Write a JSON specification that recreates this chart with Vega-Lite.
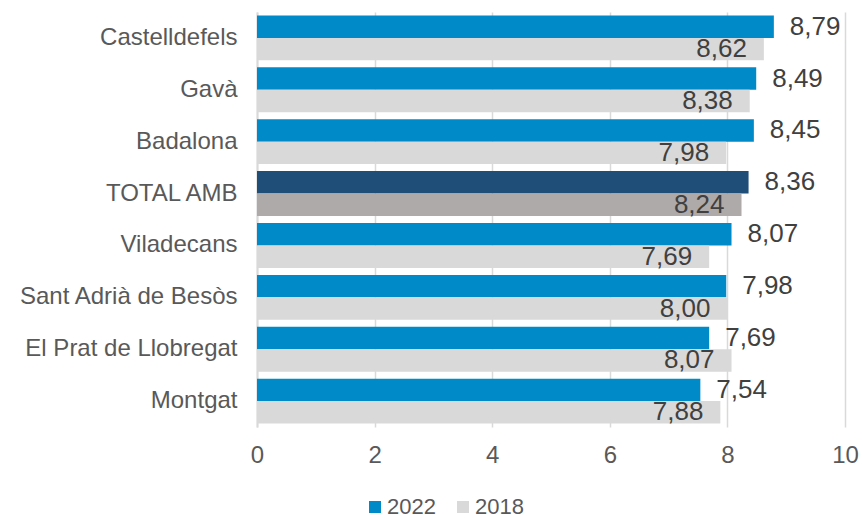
{
  "$schema": "https://vega.github.io/schema/vega-lite/v6.json",
  "width": 588,
  "height": 415,
  "autosize": {"type": "none"},
  "padding": {"left": 257, "top": 12, "right": 18, "bottom": 91},
  "config": {
    "view": {"stroke": null},
    "font": "Liberation Sans",
    "locale": {"number": {"decimal": ",", "thousands": ".", "grouping": [3], "currency": ["", " €"]}}
  },
  "data": {
    "values": [
      {"municipi": "Castelldefels", "any": "2022", "valor": 8.79},
      {"municipi": "Castelldefels", "any": "2018", "valor": 8.62},
      {"municipi": "Gavà", "any": "2022", "valor": 8.49},
      {"municipi": "Gavà", "any": "2018", "valor": 8.38},
      {"municipi": "Badalona", "any": "2022", "valor": 8.45},
      {"municipi": "Badalona", "any": "2018", "valor": 7.98},
      {"municipi": "TOTAL AMB", "any": "2022", "valor": 8.36},
      {"municipi": "TOTAL AMB", "any": "2018", "valor": 8.24},
      {"municipi": "Viladecans", "any": "2022", "valor": 8.07},
      {"municipi": "Viladecans", "any": "2018", "valor": 7.69},
      {"municipi": "Sant Adrià de Besòs", "any": "2022", "valor": 7.98},
      {"municipi": "Sant Adrià de Besòs", "any": "2018", "valor": 8.00},
      {"municipi": "El Prat de Llobregat", "any": "2022", "valor": 7.69},
      {"municipi": "El Prat de Llobregat", "any": "2018", "valor": 8.07},
      {"municipi": "Montgat", "any": "2022", "valor": 7.54},
      {"municipi": "Montgat", "any": "2018", "valor": 7.88}
    ]
  },
  "transform": [
    {"calculate": "datum.municipi === 'TOTAL AMB' ? 'TOTAL ' + datum.any : datum.any", "as": "grup"}
  ],
  "encoding": {
    "y": {
      "field": "municipi",
      "type": "nominal",
      "sort": ["Castelldefels", "Gavà", "Badalona", "TOTAL AMB", "Viladecans", "Sant Adrià de Besòs", "El Prat de Llobregat", "Montgat"],
      "scale": {"paddingInner": 0.135, "paddingOuter": 0.067},
      "axis": {
        "title": null,
        "ticks": false,
        "domain": true,
        "domainColor": "#d9d9d9",
        "domainWidth": 2,
        "labelFontSize": 24,
        "labelColor": "#595959",
        "labelPadding": 20,
        "labelLimit": 300
      }
    },
    "yOffset": {"field": "any", "type": "nominal", "sort": ["2022", "2018"]},
    "x": {
      "field": "valor",
      "type": "quantitative",
      "scale": {"domain": [0, 10]},
      "axis": {
        "title": null,
        "values": [0, 2, 4, 6, 8, 10],
        "format": "d",
        "grid": true,
        "gridColor": "#d9d9d9",
        "gridWidth": 1.5,
        "domain": false,
        "ticks": false,
        "labelFlush": false,
        "labelFontSize": 24,
        "labelColor": "#595959",
        "labelPadding": 16
      }
    }
  },
  "layer": [
    {
      "mark": {"type": "bar"},
      "encoding": {
        "color": {
          "field": "grup",
          "type": "nominal",
          "scale": {
            "domain": ["2022", "2018", "TOTAL 2022", "TOTAL 2018"],
            "range": ["#008ac8", "#d9d9d9", "#1f4e79", "#aeaaaa"]
          },
          "legend": {
            "values": ["2022", "2018"],
            "title": null,
            "orient": "none",
            "legendX": 107,
            "legendY": 484,
            "direction": "horizontal",
            "columns": 2,
            "symbolType": "square",
            "symbolSize": 144,
            "symbolStrokeWidth": 0,
            "labelFontSize": 22,
            "labelColor": "#595959",
            "labelOffset": 1,
            "columnPadding": 16,
            "padding": 0
          }
        }
      }
    },
    {
      "transform": [{"filter": "datum.any === '2022'"}],
      "mark": {"type": "text", "align": "left", "baseline": "middle", "dx": 16, "fontSize": 26, "color": "#404040"},
      "encoding": {"text": {"field": "valor", "type": "quantitative", "format": ".2f"}}
    },
    {
      "transform": [{"filter": "datum.any === '2018'"}],
      "mark": {"type": "text", "align": "right", "baseline": "middle", "dx": -17, "fontSize": 26, "color": "#404040"},
      "encoding": {"text": {"field": "valor", "type": "quantitative", "format": ".2f"}}
    }
  ]
}
